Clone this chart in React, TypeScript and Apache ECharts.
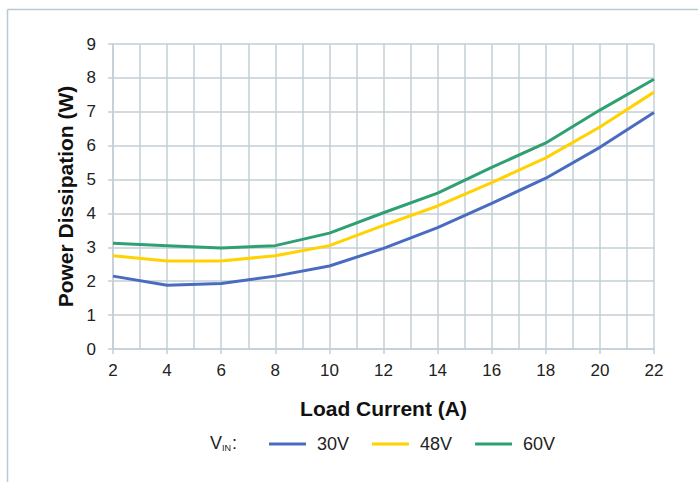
import React, { useEffect, useRef } from "react";
import * as echarts from "echarts";

const loadCurrent = [2, 4, 6, 8, 10, 12, 14, 16, 18, 20, 22];
const p30V = [2.15, 1.88, 1.93, 2.15, 2.45, 2.97, 3.58, 4.3, 5.04, 5.95, 6.98];
const p48V = [2.75, 2.6, 2.6, 2.75, 3.05, 3.65, 4.22, 4.91, 5.64, 6.55, 7.58];
const p60V = [3.12, 3.05, 2.98, 3.05, 3.42, 4.02, 4.6, 5.36, 6.08, 7.05, 7.96];
const seriesNames = ["30V", "48V", "60V"];
const colors = ["#4a6cc0", "#ffd200", "#2fa072"];

const gridColor = "#c3cfd6";
const font = "Liberation Sans, Arial, sans-serif";

export default function App() {
  const ref = useRef<HTMLDivElement>(null);
  useEffect(() => {
    if (!ref.current) return;
    const chart = echarts.init(ref.current, null, { renderer: "svg" });
    const datasets = [p30V, p48V, p60V];
    chart.setOption({
      animation: false,
      textStyle: { fontFamily: font },
      grid: { left: 113, right: 44, top: 44, bottom: 133 },
      graphic: [
        {
          type: "line",
          shape: { x1: 7.5, y1: 9.5, x2: 698, y2: 9.5 },
          style: { stroke: "#b9c9d1", lineWidth: 1.5 },
        },
        {
          type: "line",
          shape: { x1: 7.5, y1: 9.5, x2: 7.5, y2: 482 },
          style: { stroke: "#b9c9d1", lineWidth: 1.5 },
        },
        {
          type: "text",
          left: 210,
          top: 433,
          style: {
            text: "{v|V}{s|IN}{v|:}",
            rich: {
              v: { fontSize: 18, fontFamily: font, fill: "#222", lineHeight: 22 },
              s: { fontSize: 9, fontFamily: font, fill: "#222", lineHeight: 22, padding: [10, 1, 0, 0] },
            },
          },
        },
      ],
      legend: {
        left: 269,
        top: 435,
        padding: 0,
        icon: "rect",
        itemWidth: 37,
        itemHeight: 3,
        itemGap: 23,
        textStyle: { fontSize: 18, color: "#222", fontFamily: font, padding: [0, 0, 0, 6] },
        data: seriesNames,
      },
      xAxis: {
        type: "value",
        min: 2,
        max: 22,
        interval: 2,
        name: "Load Current (A)",
        nameLocation: "middle",
        nameGap: 49,
        nameTextStyle: { fontSize: 21, fontWeight: "bold", color: "#111", fontFamily: font },
        axisLine: { show: true, lineStyle: { color: gridColor, width: 1.5 } },
        axisTick: { show: true, length: 5, lineStyle: { color: gridColor, width: 1.5 } },
        minorTick: { show: false, splitNumber: 2 },
        axisLabel: { fontSize: 17, color: "#222", margin: 13, fontFamily: font },
        splitLine: { show: true, lineStyle: { color: gridColor, width: 1.5 } },
        minorSplitLine: { show: true, lineStyle: { color: gridColor, width: 1.5 } },
      },
      yAxis: {
        type: "value",
        min: 0,
        max: 9,
        interval: 1,
        name: "Power Dissipation (W)",
        nameLocation: "middle",
        nameGap: 37,
        nameTextStyle: { fontSize: 21, fontWeight: "bold", color: "#111", fontFamily: font },
        axisLine: { show: true, lineStyle: { color: gridColor, width: 1.5 } },
        axisTick: { show: true, length: 5, lineStyle: { color: gridColor, width: 1.5 } },
        axisLabel: { fontSize: 17, color: "#222", margin: 17, fontFamily: font },
        splitLine: { show: true, lineStyle: { color: gridColor, width: 1.5 } },
      },
      series: seriesNames.map((name, i) => ({
        name,
        type: "line",
        data: loadCurrent.map((x, j) => [x, datasets[i][j]]),
        showSymbol: false,
        symbol: "none",
        color: colors[i],
        lineStyle: { color: colors[i], width: 3 },
        itemStyle: { color: colors[i] },
      })),
    });
    return () => chart.dispose();
  }, []);
  return (
    <div
      ref={ref}
      style={{ position: "fixed", left: 0, top: 0, width: 698, height: 482, background: "#fff" }}
    />
  );
}
